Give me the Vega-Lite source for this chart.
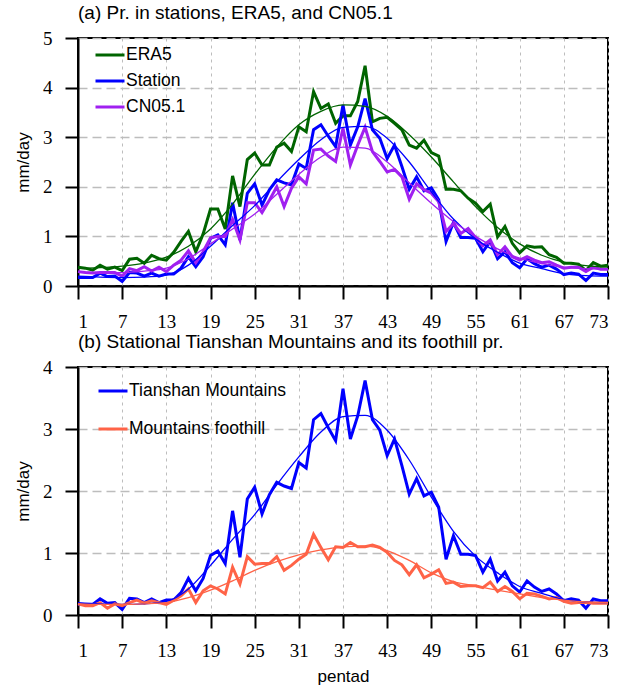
{
  "$schema": "https://vega.github.io/schema/vega-lite/v6.json",
  "padding": {"left": 13, "top": 3, "right": 10, "bottom": 0},
  "background": "white",
  "resolve": {"scale": {"color": "independent", "x": "independent", "y": "independent"}, "legend": {"color": "independent"}},
  "datasets": {
    "top": [
      {"p":1,"ERA5":0.38,"Station":0.17,"CN051":0.29},
      {"p":2,"ERA5":0.36,"Station":0.17,"CN051":0.27},
      {"p":3,"ERA5":0.32,"Station":0.17,"CN051":0.26},
      {"p":4,"ERA5":0.42,"Station":0.26,"CN051":0.27},
      {"p":5,"ERA5":0.34,"Station":0.19,"CN051":0.27},
      {"p":6,"ERA5":0.38,"Station":0.2,"CN051":0.27},
      {"p":7,"ERA5":0.31,"Station":0.09,"CN051":0.2},
      {"p":8,"ERA5":0.54,"Station":0.27,"CN051":0.35},
      {"p":9,"ERA5":0.56,"Station":0.26,"CN051":0.31},
      {"p":10,"ERA5":0.46,"Station":0.2,"CN051":0.39},
      {"p":11,"ERA5":0.62,"Station":0.26,"CN051":0.3},
      {"p":12,"ERA5":0.55,"Station":0.2,"CN051":0.38},
      {"p":13,"ERA5":0.52,"Station":0.24,"CN051":0.29},
      {"p":14,"ERA5":0.68,"Station":0.24,"CN051":0.42},
      {"p":15,"ERA5":0.9,"Station":0.36,"CN051":0.52},
      {"p":16,"ERA5":1.1,"Station":0.59,"CN051":0.71},
      {"p":17,"ERA5":0.69,"Station":0.39,"CN051":0.47},
      {"p":18,"ERA5":1.05,"Station":0.59,"CN051":0.69},
      {"p":19,"ERA5":1.55,"Station":0.96,"CN051":0.97},
      {"p":20,"ERA5":1.55,"Station":1.03,"CN051":1.0},
      {"p":21,"ERA5":1.15,"Station":0.83,"CN051":1.0},
      {"p":22,"ERA5":2.22,"Station":1.68,"CN051":1.34},
      {"p":23,"ERA5":1.6,"Station":0.93,"CN051":0.93},
      {"p":24,"ERA5":2.55,"Station":1.87,"CN051":1.68},
      {"p":25,"ERA5":2.68,"Station":2.06,"CN051":1.68},
      {"p":26,"ERA5":2.44,"Station":1.63,"CN051":1.48},
      {"p":27,"ERA5":2.44,"Station":1.94,"CN051":1.73},
      {"p":28,"ERA5":2.8,"Station":2.14,"CN051":2.0},
      {"p":29,"ERA5":2.88,"Station":2.08,"CN051":1.6},
      {"p":30,"ERA5":2.71,"Station":2.04,"CN051":1.97},
      {"p":31,"ERA5":3.21,"Station":2.46,"CN051":2.2},
      {"p":32,"ERA5":3.11,"Station":2.37,"CN051":2.06},
      {"p":33,"ERA5":3.92,"Station":3.15,"CN051":2.74},
      {"p":34,"ERA5":3.58,"Station":3.25,"CN051":2.76},
      {"p":35,"ERA5":3.67,"Station":3.02,"CN051":2.62},
      {"p":36,"ERA5":3.28,"Station":2.81,"CN051":2.51},
      {"p":37,"ERA5":3.43,"Station":3.65,"CN051":3.18},
      {"p":38,"ERA5":3.43,"Station":2.84,"CN051":2.44},
      {"p":39,"ERA5":3.72,"Station":3.21,"CN051":2.84},
      {"p":40,"ERA5":4.44,"Station":3.78,"CN051":3.2},
      {"p":41,"ERA5":3.31,"Station":3.15,"CN051":2.71},
      {"p":42,"ERA5":3.38,"Station":2.98,"CN051":2.51},
      {"p":43,"ERA5":3.4,"Station":2.57,"CN051":2.3},
      {"p":44,"ERA5":3.28,"Station":2.84,"CN051":2.35},
      {"p":45,"ERA5":3.15,"Station":2.41,"CN051":2.2},
      {"p":46,"ERA5":2.84,"Station":1.95,"CN051":1.75},
      {"p":47,"ERA5":2.78,"Station":2.2,"CN051":2.06},
      {"p":48,"ERA5":2.94,"Station":1.92,"CN051":1.94},
      {"p":49,"ERA5":2.69,"Station":1.98,"CN051":1.87},
      {"p":50,"ERA5":2.62,"Station":1.74,"CN051":1.7},
      {"p":51,"ERA5":1.95,"Station":0.9,"CN051":1.1},
      {"p":52,"ERA5":1.95,"Station":1.28,"CN051":1.26},
      {"p":53,"ERA5":1.92,"Station":0.98,"CN051":1.06},
      {"p":54,"ERA5":1.77,"Station":0.98,"CN051":1.16},
      {"p":55,"ERA5":1.67,"Station":0.96,"CN051":0.98},
      {"p":56,"ERA5":1.5,"Station":0.69,"CN051":0.81},
      {"p":57,"ERA5":1.65,"Station":0.9,"CN051":0.93},
      {"p":58,"ERA5":0.99,"Station":0.55,"CN051":0.63},
      {"p":59,"ERA5":1.2,"Station":0.69,"CN051":0.79},
      {"p":60,"ERA5":0.86,"Station":0.47,"CN051":0.59},
      {"p":61,"ERA5":0.67,"Station":0.37,"CN051":0.52},
      {"p":62,"ERA5":0.81,"Station":0.55,"CN051":0.59},
      {"p":63,"ERA5":0.78,"Station":0.45,"CN051":0.52},
      {"p":64,"ERA5":0.79,"Station":0.38,"CN051":0.47},
      {"p":65,"ERA5":0.63,"Station":0.42,"CN051":0.49},
      {"p":66,"ERA5":0.58,"Station":0.34,"CN051":0.42},
      {"p":67,"ERA5":0.46,"Station":0.23,"CN051":0.36},
      {"p":68,"ERA5":0.46,"Station":0.26,"CN051":0.38},
      {"p":69,"ERA5":0.44,"Station":0.24,"CN051":0.38},
      {"p":70,"ERA5":0.31,"Station":0.11,"CN051":0.29},
      {"p":71,"ERA5":0.47,"Station":0.26,"CN051":0.38},
      {"p":72,"ERA5":0.4,"Station":0.23,"CN051":0.34},
      {"p":73,"ERA5":0.42,"Station":0.23,"CN051":0.34}
    ],
    "topfit": [
      {"p":1,"ERA5":0.36,"Station":0.2,"CN051":0.28},
      {"p":4,"ERA5":0.37,"Station":0.18,"CN051":0.27},
      {"p":7,"ERA5":0.4,"Station":0.17,"CN051":0.27},
      {"p":10,"ERA5":0.46,"Station":0.18,"CN051":0.3},
      {"p":13,"ERA5":0.58,"Station":0.22,"CN051":0.36},
      {"p":16,"ERA5":0.8,"Station":0.42,"CN051":0.55},
      {"p":19,"ERA5":1.15,"Station":0.8,"CN051":0.85},
      {"p":22,"ERA5":1.65,"Station":1.22,"CN051":1.15},
      {"p":25,"ERA5":2.25,"Station":1.62,"CN051":1.45},
      {"p":28,"ERA5":2.8,"Station":2.1,"CN051":1.85},
      {"p":31,"ERA5":3.25,"Station":2.55,"CN051":2.25},
      {"p":34,"ERA5":3.52,"Station":2.95,"CN051":2.6},
      {"p":37,"ERA5":3.65,"Station":3.2,"CN051":2.8},
      {"p":40,"ERA5":3.62,"Station":3.22,"CN051":2.78},
      {"p":43,"ERA5":3.42,"Station":2.98,"CN051":2.5},
      {"p":46,"ERA5":3.05,"Station":2.5,"CN051":2.08},
      {"p":49,"ERA5":2.6,"Station":1.9,"CN051":1.67},
      {"p":52,"ERA5":2.1,"Station":1.35,"CN051":1.3},
      {"p":55,"ERA5":1.6,"Station":0.95,"CN051":1.0},
      {"p":58,"ERA5":1.18,"Station":0.68,"CN051":0.75},
      {"p":61,"ERA5":0.85,"Station":0.46,"CN051":0.56},
      {"p":64,"ERA5":0.62,"Station":0.35,"CN051":0.45},
      {"p":67,"ERA5":0.48,"Station":0.25,"CN051":0.38},
      {"p":70,"ERA5":0.41,"Station":0.21,"CN051":0.35},
      {"p":73,"ERA5":0.38,"Station":0.2,"CN051":0.34}
    ],
    "bot": [
      {"p":1,"Tianshan Mountains":0.17,"Mountains foothill":0.18},
      {"p":2,"Tianshan Mountains":0.17,"Mountains foothill":0.15},
      {"p":3,"Tianshan Mountains":0.17,"Mountains foothill":0.15},
      {"p":4,"Tianshan Mountains":0.26,"Mountains foothill":0.2},
      {"p":5,"Tianshan Mountains":0.19,"Mountains foothill":0.11},
      {"p":6,"Tianshan Mountains":0.2,"Mountains foothill":0.18},
      {"p":7,"Tianshan Mountains":0.09,"Mountains foothill":0.15},
      {"p":8,"Tianshan Mountains":0.27,"Mountains foothill":0.2},
      {"p":9,"Tianshan Mountains":0.26,"Mountains foothill":0.24},
      {"p":10,"Tianshan Mountains":0.2,"Mountains foothill":0.19},
      {"p":11,"Tianshan Mountains":0.26,"Mountains foothill":0.23},
      {"p":12,"Tianshan Mountains":0.2,"Mountains foothill":0.2},
      {"p":13,"Tianshan Mountains":0.24,"Mountains foothill":0.17},
      {"p":14,"Tianshan Mountains":0.24,"Mountains foothill":0.24},
      {"p":15,"Tianshan Mountains":0.36,"Mountains foothill":0.31},
      {"p":16,"Tianshan Mountains":0.59,"Mountains foothill":0.42},
      {"p":17,"Tianshan Mountains":0.39,"Mountains foothill":0.2},
      {"p":18,"Tianshan Mountains":0.59,"Mountains foothill":0.39},
      {"p":19,"Tianshan Mountains":0.96,"Mountains foothill":0.47},
      {"p":20,"Tianshan Mountains":1.03,"Mountains foothill":0.42},
      {"p":21,"Tianshan Mountains":0.83,"Mountains foothill":0.34},
      {"p":22,"Tianshan Mountains":1.68,"Mountains foothill":0.77},
      {"p":23,"Tianshan Mountains":0.93,"Mountains foothill":0.5},
      {"p":24,"Tianshan Mountains":1.87,"Mountains foothill":0.94},
      {"p":25,"Tianshan Mountains":2.06,"Mountains foothill":0.82},
      {"p":26,"Tianshan Mountains":1.63,"Mountains foothill":0.83},
      {"p":27,"Tianshan Mountains":1.94,"Mountains foothill":0.83},
      {"p":28,"Tianshan Mountains":2.14,"Mountains foothill":0.94},
      {"p":29,"Tianshan Mountains":2.08,"Mountains foothill":0.72},
      {"p":30,"Tianshan Mountains":2.04,"Mountains foothill":0.8},
      {"p":31,"Tianshan Mountains":2.46,"Mountains foothill":0.9},
      {"p":32,"Tianshan Mountains":2.37,"Mountains foothill":0.98},
      {"p":33,"Tianshan Mountains":3.15,"Mountains foothill":1.3},
      {"p":34,"Tianshan Mountains":3.25,"Mountains foothill":1.09},
      {"p":35,"Tianshan Mountains":3.02,"Mountains foothill":0.89},
      {"p":36,"Tianshan Mountains":2.81,"Mountains foothill":1.1},
      {"p":37,"Tianshan Mountains":3.65,"Mountains foothill":1.09},
      {"p":38,"Tianshan Mountains":2.84,"Mountains foothill":1.17},
      {"p":39,"Tianshan Mountains":3.21,"Mountains foothill":1.1},
      {"p":40,"Tianshan Mountains":3.78,"Mountains foothill":1.1},
      {"p":41,"Tianshan Mountains":3.15,"Mountains foothill":1.13},
      {"p":42,"Tianshan Mountains":2.98,"Mountains foothill":1.09},
      {"p":43,"Tianshan Mountains":2.57,"Mountains foothill":1.01},
      {"p":44,"Tianshan Mountains":2.84,"Mountains foothill":0.88},
      {"p":45,"Tianshan Mountains":2.41,"Mountains foothill":0.81},
      {"p":46,"Tianshan Mountains":1.95,"Mountains foothill":0.65},
      {"p":47,"Tianshan Mountains":2.2,"Mountains foothill":0.81},
      {"p":48,"Tianshan Mountains":1.92,"Mountains foothill":0.6},
      {"p":49,"Tianshan Mountains":1.98,"Mountains foothill":0.66},
      {"p":50,"Tianshan Mountains":1.74,"Mountains foothill":0.73},
      {"p":51,"Tianshan Mountains":0.9,"Mountains foothill":0.51},
      {"p":52,"Tianshan Mountains":1.28,"Mountains foothill":0.53},
      {"p":53,"Tianshan Mountains":0.98,"Mountains foothill":0.46},
      {"p":54,"Tianshan Mountains":0.98,"Mountains foothill":0.47},
      {"p":55,"Tianshan Mountains":0.96,"Mountains foothill":0.47},
      {"p":56,"Tianshan Mountains":0.69,"Mountains foothill":0.44},
      {"p":57,"Tianshan Mountains":0.9,"Mountains foothill":0.53},
      {"p":58,"Tianshan Mountains":0.55,"Mountains foothill":0.38},
      {"p":59,"Tianshan Mountains":0.69,"Mountains foothill":0.46},
      {"p":60,"Tianshan Mountains":0.47,"Mountains foothill":0.38},
      {"p":61,"Tianshan Mountains":0.37,"Mountains foothill":0.26},
      {"p":62,"Tianshan Mountains":0.55,"Mountains foothill":0.35},
      {"p":63,"Tianshan Mountains":0.45,"Mountains foothill":0.34},
      {"p":64,"Tianshan Mountains":0.38,"Mountains foothill":0.3},
      {"p":65,"Tianshan Mountains":0.42,"Mountains foothill":0.26},
      {"p":66,"Tianshan Mountains":0.34,"Mountains foothill":0.28},
      {"p":67,"Tianshan Mountains":0.23,"Mountains foothill":0.22},
      {"p":68,"Tianshan Mountains":0.26,"Mountains foothill":0.19},
      {"p":69,"Tianshan Mountains":0.24,"Mountains foothill":0.2},
      {"p":70,"Tianshan Mountains":0.11,"Mountains foothill":0.2},
      {"p":71,"Tianshan Mountains":0.26,"Mountains foothill":0.19},
      {"p":72,"Tianshan Mountains":0.23,"Mountains foothill":0.19},
      {"p":73,"Tianshan Mountains":0.23,"Mountains foothill":0.19}
    ],
    "botfit": [
      {"p":1,"Tianshan Mountains":0.2,"Mountains foothill":0.18},
      {"p":4,"Tianshan Mountains":0.18,"Mountains foothill":0.17},
      {"p":7,"Tianshan Mountains":0.17,"Mountains foothill":0.17},
      {"p":10,"Tianshan Mountains":0.18,"Mountains foothill":0.18},
      {"p":13,"Tianshan Mountains":0.22,"Mountains foothill":0.2},
      {"p":16,"Tianshan Mountains":0.42,"Mountains foothill":0.28},
      {"p":19,"Tianshan Mountains":0.8,"Mountains foothill":0.4},
      {"p":22,"Tianshan Mountains":1.22,"Mountains foothill":0.55},
      {"p":25,"Tianshan Mountains":1.62,"Mountains foothill":0.72},
      {"p":28,"Tianshan Mountains":2.1,"Mountains foothill":0.86},
      {"p":31,"Tianshan Mountains":2.55,"Mountains foothill":0.97},
      {"p":34,"Tianshan Mountains":2.95,"Mountains foothill":1.05},
      {"p":37,"Tianshan Mountains":3.2,"Mountains foothill":1.1},
      {"p":40,"Tianshan Mountains":3.22,"Mountains foothill":1.11},
      {"p":43,"Tianshan Mountains":2.98,"Mountains foothill":1.04},
      {"p":46,"Tianshan Mountains":2.5,"Mountains foothill":0.88},
      {"p":49,"Tianshan Mountains":1.9,"Mountains foothill":0.68},
      {"p":52,"Tianshan Mountains":1.35,"Mountains foothill":0.54},
      {"p":55,"Tianshan Mountains":0.95,"Mountains foothill":0.47},
      {"p":58,"Tianshan Mountains":0.68,"Mountains foothill":0.4},
      {"p":61,"Tianshan Mountains":0.46,"Mountains foothill":0.34},
      {"p":64,"Tianshan Mountains":0.35,"Mountains foothill":0.28},
      {"p":67,"Tianshan Mountains":0.25,"Mountains foothill":0.24},
      {"p":70,"Tianshan Mountains":0.21,"Mountains foothill":0.21},
      {"p":73,"Tianshan Mountains":0.2,"Mountains foothill":0.2}
    ]
  },
  "config": {
    "view": {"stroke": "black", "strokeWidth": 2},
    "axis": {"domainColor": "black", "domainWidth": 2, "tickColor": "black", "tickWidth": 2, "tickSize": 13,
      "labelFont": "Times New Roman, Liberation Serif, serif", "labelFontSize": 19, "labelColor": "black", "labelPadding": 13,
      "titleFont": "Liberation Sans", "titleFontSize": 17, "titleFontWeight": "normal", "titleColor": "black",
      "gridColor": "#bdbdbd"},
    "axisX": {"gridDash": [3, 4], "gridWidth": 1},
    "axisY": {"gridDash": [9, 5], "gridWidth": 1.5, "titlePadding": 10},
    "title": {"anchor": "start", "font": "Liberation Sans", "fontSize": 19, "fontWeight": "normal", "color": "black", "offset": 6, "frame": "group"},
    "legend": {"title": null, "symbolType": "stroke", "symbolSize": 841, "symbolStrokeWidth": 3, "labelFont": "Liberation Sans", "labelFontSize": 17.5, "labelColor": "black", "labelOffset": 0, "padding": 0},
    "concat": {"spacing": 0}
  },
  "vconcat": [
    {
      "title": "(a) Pr. in stations, ERA5, and CN05.1",
      "width": 530,
      "height": 248,
      "layer": [
        {
          "data": {"name": "top"},
          "transform": [{"fold": ["ERA5", "Station", "CN051"], "as": ["series", "pr"]}],
          "mark": {"type": "line", "strokeWidth": 3},
          "encoding": {
            "x": {"field": "p", "type": "quantitative", "scale": {"domain": [1, 73], "nice": false, "zero": false},
              "axis": {"values": [1, 7, 13, 19, 25, 31, 37, 43, 49, 55, 61, 67, 73], "format": "d", "title": null}},
            "y": {"field": "pr", "type": "quantitative", "scale": {"domain": [0, 5], "nice": false},
              "axis": {"values": [0, 1, 2, 3, 4, 5], "format": "d", "title": "mm/day"}},
            "color": {"field": "series", "type": "nominal",
              "scale": {"domain": ["ERA5", "Station", "CN051"], "range": ["#006400", "#0000FF", "#A020F0"]},
              "legend": {"orient": "none", "legendX": 16, "legendY": 1, "rowPadding": 1,
                "labelExpr": "datum.label == 'CN051' ? 'CN05.1' : datum.label"}}
          }
        },
        {
          "data": {"name": "topfit"},
          "transform": [{"fold": ["ERA5", "Station", "CN051"], "as": ["series", "pr"]}],
          "mark": {"type": "line", "strokeWidth": 1.3, "interpolate": "monotone"},
          "encoding": {
            "x": {"field": "p", "type": "quantitative"},
            "y": {"field": "pr", "type": "quantitative"},
            "color": {"field": "series", "type": "nominal", "legend": null}
          }
        }
      ]
    },
    {
      "title": "(b) Stational Tianshan Mountains and its foothill pr.",
      "width": 530,
      "height": 248,
      "layer": [
        {
          "data": {"name": "bot"},
          "transform": [{"fold": ["Tianshan Mountains", "Mountains foothill"], "as": ["series", "pr"]}],
          "mark": {"type": "line", "strokeWidth": 3},
          "encoding": {
            "x": {"field": "p", "type": "quantitative", "scale": {"domain": [1, 73], "nice": false, "zero": false},
              "axis": {"values": [1, 7, 13, 19, 25, 31, 37, 43, 49, 55, 61, 67, 73], "format": "d", "title": "pentad", "titlePadding": 8}},
            "y": {"field": "pr", "type": "quantitative", "scale": {"domain": [0, 4], "nice": false},
              "axis": {"values": [0, 1, 2, 3, 4], "format": "d", "title": "mm/day"}},
            "color": {"field": "series", "type": "nominal",
              "scale": {"domain": ["Tianshan Mountains", "Mountains foothill"], "range": ["#0000FF", "#FF6347"]},
              "legend": {"orient": "none", "legendX": 19, "legendY": 8, "rowPadding": 13}}
          }
        },
        {
          "data": {"name": "botfit"},
          "transform": [{"fold": ["Tianshan Mountains", "Mountains foothill"], "as": ["series", "pr"]}],
          "mark": {"type": "line", "strokeWidth": 1.3, "interpolate": "monotone"},
          "encoding": {
            "x": {"field": "p", "type": "quantitative"},
            "y": {"field": "pr", "type": "quantitative"},
            "color": {"field": "series", "type": "nominal", "legend": null}
          }
        }
      ]
    }
  ]
}
